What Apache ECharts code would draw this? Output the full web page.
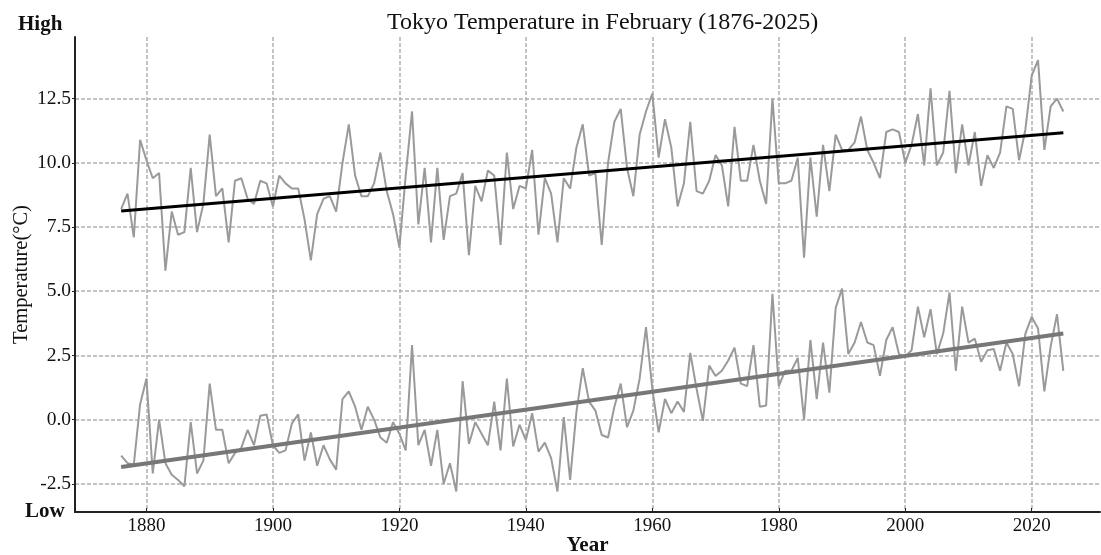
<!DOCTYPE html>
<html>
<head>
<meta charset="utf-8">
<script src="https://cdn.jsdelivr.net/npm/echarts@6/dist/echarts.min.js"></script>
<style>html,body{margin:0;padding:0;background:#fff;}#c{width:1101px;height:555px;}</style>
</head>
<body>
<div id="c"></div>
<script>
var startYear = 1876;
var highTemps = [
  8.2, 8.8, 7.1, 10.9, 10.1, 9.4, 9.6, 5.8, 8.1, 7.2,
  7.3, 9.8, 7.3, 8.4, 11.1, 8.7, 9.0, 6.9, 9.3, 9.4,
  8.6, 8.4, 9.3, 9.2, 8.3, 9.5, 9.2, 9.0, 9.0, 7.8,
  6.2, 8.0, 8.6, 8.7, 8.1, 10.0, 11.5, 9.5, 8.7, 8.7,
  9.2, 10.4, 8.9, 8.0, 6.7, 9.5, 12.0, 7.6, 9.8, 6.9,
  9.8, 7.0, 8.7, 8.8, 9.6, 6.4, 9.1, 8.5, 9.7, 9.5,
  6.8, 10.4, 8.2, 9.1, 9.0, 10.5, 7.2, 9.4, 8.8, 6.9,
  9.4, 9.0, 10.6, 11.5, 9.5, 9.6, 6.8, 10.0, 11.6, 12.1,
  9.8, 8.7, 11.1, 12.0, 12.7, 10.2, 11.7, 10.6, 8.3, 9.2,
  11.6, 8.9, 8.8, 9.3, 10.3, 9.9, 8.3, 11.4, 9.3, 9.3,
  10.7, 9.3, 8.4, 12.5, 9.2, 9.2, 9.3, 10.2, 6.3, 10.2,
  7.9, 10.7, 8.9, 11.1, 10.5, 10.5, 10.8, 11.8, 10.5, 10.0,
  9.4, 11.2, 11.3, 11.2, 10.0, 10.7, 11.9, 9.9, 12.9, 9.9,
  10.4, 12.8, 9.6, 11.5, 9.9, 11.2, 9.1, 10.3, 9.8, 10.4,
  12.2, 12.1, 10.1, 11.3, 13.4, 14.0, 10.5, 12.2, 12.5, 12.0
];
var lowTemps = [
  -1.4, -1.7, -1.75, 0.6, 1.6, -2.1, 0.0, -1.7, -2.15, -2.35,
  -2.6, -0.1, -2.1, -1.6, 1.4, -0.4, -0.4, -1.7, -1.3, -1.1,
  -0.4, -1.0, 0.15, 0.2, -1.0, -1.3, -1.2, -0.15, 0.2, -1.6,
  -0.5, -1.8, -1.0, -1.55, -1.95, 0.8, 1.1, 0.5, -0.4, 0.5,
  0.0, -0.7, -0.9, -0.1, -0.55, -1.2, 2.9, -1.0, -0.4, -1.8,
  -0.4, -2.5, -1.7, -2.8, 1.5, -0.95, -0.1, -0.55, -1.0, 0.7,
  -1.2, 1.6, -1.05, -0.2, -0.8, 0.25, -1.25, -0.9, -1.5, -2.8,
  0.1, -2.35, 0.3, 2.0, 0.7, 0.35, -0.6, -0.7, 0.5, 1.4,
  -0.3, 0.35, 1.6, 3.6, 1.2, -0.5, 0.8, 0.25, 0.7, 0.3,
  2.6, 1.2, -0.05, 2.1, 1.7, 1.9, 2.3, 2.8, 1.4, 1.3,
  2.9, 0.5, 0.55, 4.9, 1.3, 1.9, 1.9, 2.4, 0.0, 3.1,
  0.8, 3.0, 1.05, 4.35, 5.1, 2.55, 3.0, 3.8, 3.0, 2.9,
  1.7, 3.1, 3.6, 2.55, 2.45, 2.7, 4.4, 3.2, 4.3, 2.55,
  3.35, 4.95, 1.9, 4.4, 3.0, 3.15, 2.25, 2.7, 2.75, 1.9,
  3.0, 2.55, 1.3, 3.35, 4.0, 3.55, 1.1, 2.85, 4.1, 1.9
];
var trendYears = [1876, 2025];
var highTrend = [8.12, 11.17];
var lowTrend = [-1.85, 3.35];

function pairs(vals) {
  var out = [];
  for (var i = 0; i < vals.length; i++) out.push([startYear + i, vals[i]]);
  return out;
}
function trendPairs(vals) {
  return [[trendYears[0], vals[0]], [trendYears[1], vals[1]]];
}

var serif = 'Liberation Serif';
var chart = echarts.init(document.getElementById('c'));
chart.setOption({
  animation: false,
  backgroundColor: '#fff',
  title: {
    text: 'Tokyo Temperature in February (1876-2025)',
    left: 382, top: 6,
    textStyle: {fontFamily: serif, fontWeight: 'normal', fontSize: 24, color: '#111'}
  },
  graphic: [
    {type: 'text', left: 18, top: 14, style: {text: 'High', font: 'bold 21px "Liberation Serif"', fill: '#111'}},
    {type: 'text', left: 25, top: 501, style: {text: 'Low', font: 'bold 21px "Liberation Serif"', fill: '#111'}}
  ],
  grid: {left: 75, right: 1, top: 37, bottom: 43, containLabel: false, outerBoundsMode: 'none'},
  xAxis: {
    type: 'value', min: 1868.7, max: 2030.8, minInterval: 20, maxInterval: 20,
    name: 'Year', nameLocation: 'middle', nameGap: 23, nameMoveOverlap: false,
    nameTextStyle: {fontFamily: serif, fontWeight: 'bold', fontSize: 21, color: '#111'},
    axisLine: {onZero: false, lineStyle: {color: '#222', width: 2}},
    axisTick: {inside: true, length: 4, lineStyle: {color: '#222'}},
    axisLabel: {fontFamily: serif, fontSize: 19, color: '#111', margin: 5, showMinLabel: false, showMaxLabel: false,
      formatter: function (v) { return String(Math.round(v)); }},
    splitLine: {show: true, showMinLine: false, showMaxLine: false, lineStyle: {color: '#b0b0b0', width: 1.5, type: [4, 2]}}
  },
  yAxis: {
    type: 'value', min: -3.6, max: 14.9, minInterval: 2.5, maxInterval: 2.5,
    name: 'Temperature(°C)', nameLocation: 'middle', nameGap: 43, nameMoveOverlap: false,
    nameTextStyle: {fontFamily: serif, fontSize: 20.5, color: '#111'},
    axisLine: {show: true, onZero: false, lineStyle: {color: '#222', width: 2}},
    axisTick: {show: true, length: 3, lineStyle: {color: '#222'}},
    axisLabel: {fontFamily: serif, fontSize: 19.5, color: '#111', margin: 4, showMinLabel: false, showMaxLabel: false,
      formatter: function (v) { return v.toFixed(1); }},
    splitLine: {show: true, showMinLine: false, showMaxLine: false, lineStyle: {color: '#b0b0b0', width: 1.5, type: [4, 2]}}
  },
  series: [
    {type: 'line', data: pairs(highTemps), showSymbol: false, lineStyle: {color: '#9a9a9a', width: 2}, z: 2},
    {type: 'line', data: pairs(lowTemps), showSymbol: false, lineStyle: {color: '#9a9a9a', width: 2}, z: 2},
    {type: 'line', data: trendPairs(highTrend), showSymbol: false, lineStyle: {color: '#000', width: 3}, z: 3},
    {type: 'line', data: trendPairs(lowTrend), showSymbol: false, lineStyle: {color: '#777', width: 4}, z: 3}
  ]
});
</script>
</body>
</html>
